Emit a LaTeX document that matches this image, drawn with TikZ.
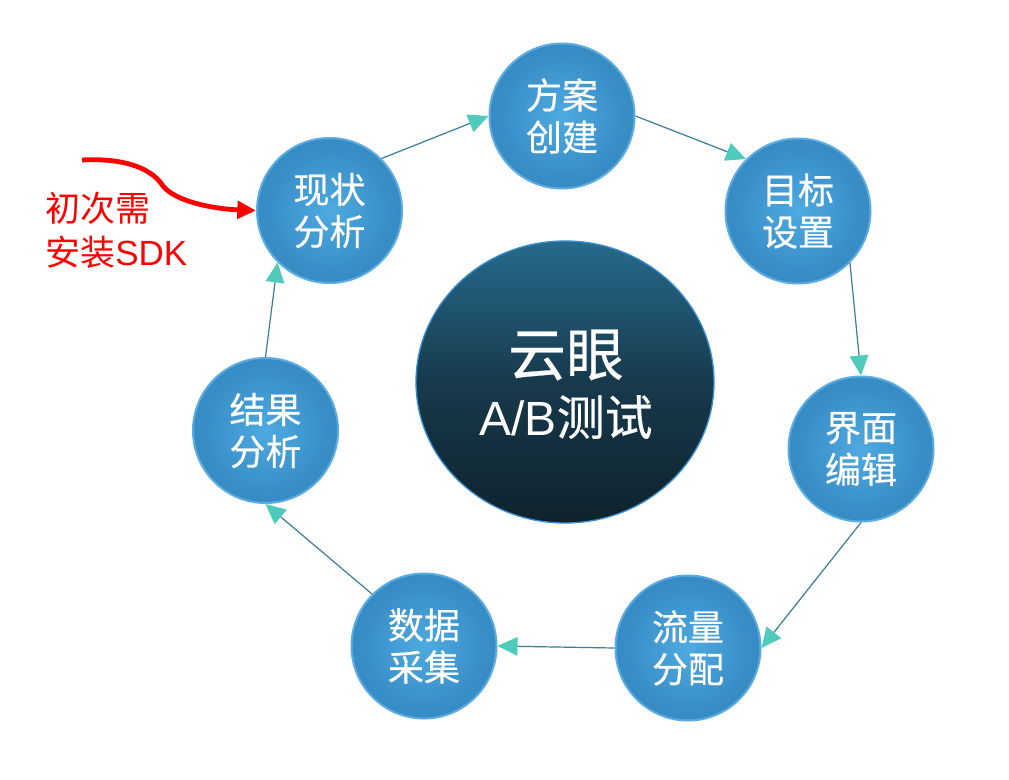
\documentclass[tikz,border=0pt]{standalone}
\usepackage{fontspec}
\setmainfont{Liberation Sans}
\newfontfamily\cjk{Noto Sans CJK SC}
\newfontfamily\cjkb[FakeBold=0.4]{Noto Sans CJK SC}
\usetikzlibrary{arrows.meta,shapes.geometric}
\definecolor{ballin}{HTML}{4EAAE0}
\definecolor{ballmid}{HTML}{3A8FC8}
\definecolor{ballout}{HTML}{2B78AD}
\definecolor{ballrim}{HTML}{5AACE3}
\definecolor{linec}{HTML}{3A7C9E}
\definecolor{tipc}{HTML}{4FCBBD}
\definecolor{corerim}{HTML}{3A8ECF}
\definecolor{core0}{HTML}{0A1820}
\definecolor{core1}{HTML}{0F222C}
\definecolor{core2}{HTML}{173A4C}
\definecolor{core3}{HTML}{266A8C}
\definecolor{core4}{HTML}{3595C6}
\definecolor{redc}{HTML}{FF0000}
\pgfdeclareradialshading{ballshade}{\pgfpoint{0bp}{0bp}}{color(0bp)=(ballin); color(20bp)=(ballmid); color(50bp)=(ballout); color(100bp)=(ballout)}
\pgfdeclareverticalshading{coreshade}{100bp}{color(0bp)=(core0); color(25bp)=(core1); color(50bp)=(core2); color(75bp)=(core3); color(100bp)=(core4)}
\tikzset{
  ball/.style={circle, shading=ballshade, draw=ballrim, line width=1.5pt,
    minimum size=108.75pt, inner sep=0pt, text=white, align=center,
    font=\cjkb\fontsize{27}{31.5}\selectfont},
  core/.style={ellipse, shading=coreshade, draw=corerim, line width=1pt,
    minimum width=223.5pt, minimum height=211.5pt, inner sep=0pt, text=white, align=center},
  conn/.style={draw=linec, line width=0.9pt, -{Triangle[length=15pt,width=14pt,color=tipc,fill=tipc]}},
  redarrow/.style={draw=redc, line width=3.6pt, -{Triangle[length=14pt,width=13pt]}},
  redtext/.style={text=redc, align=left, inner sep=0pt, font=\fontsize{26.25}{33}\selectfont}
}
\begin{document}
\begin{tikzpicture}[x=0.75pt,y=-0.75pt]
\fill[white] (0,0) rectangle (1009,779);
\useasboundingbox (0,0) rectangle (1009,779);
\node[core] (yy) at (565,382) {};
\node[text=white, inner sep=0pt, font=\cjkb\fontsize{43.5}{50}\selectfont] (yy1) at (566,355) {云眼};
\node[text=white, inner sep=0pt, font=\fontsize{36}{42}\selectfont] (yy2) at (566,417) {A/B{\cjkb 测试}};
\node[ball] (fa) at (562,116) {方案\\创建};
\node[ball] (mb) at (798,211) {目标\\设置};
\node[ball] (jm) at (861,449) {界面\\编辑};
\node[ball] (ll) at (688,648) {流量\\分配};
\node[ball] (sj) at (424,646) {数据\\采集};
\node[ball] (jg) at (265.5,430.5) {结果\\分析};
\node[ball] (xz) at (329.5,210.5) {现状\\分析};
\draw[conn] (xz.45) -- (fa.180);
\draw[conn] (fa.0) -- (mb.135);
\draw[conn] (mb.-45) -- (jm.90);
\draw[conn] (jm.270) -- (ll.0);
\draw[conn] (ll.180) -- (sj.0);
\draw[conn] (sj.135) -- (jg.270);
\draw[conn] (jg.90) -- (xz.225);
\node[redtext, anchor=west] (note) at (45,230) {{\cjk 初次需}\\{\cjk 安装}SDK};
\coordinate (rs) at (82,160);
\coordinate (rm) at (163,186);
\draw[redarrow] (rs) .. controls (120,158) and (150,166) .. (rm) .. controls (176,202) and (215,209) .. (xz.west);
\end{tikzpicture}
\end{document}
